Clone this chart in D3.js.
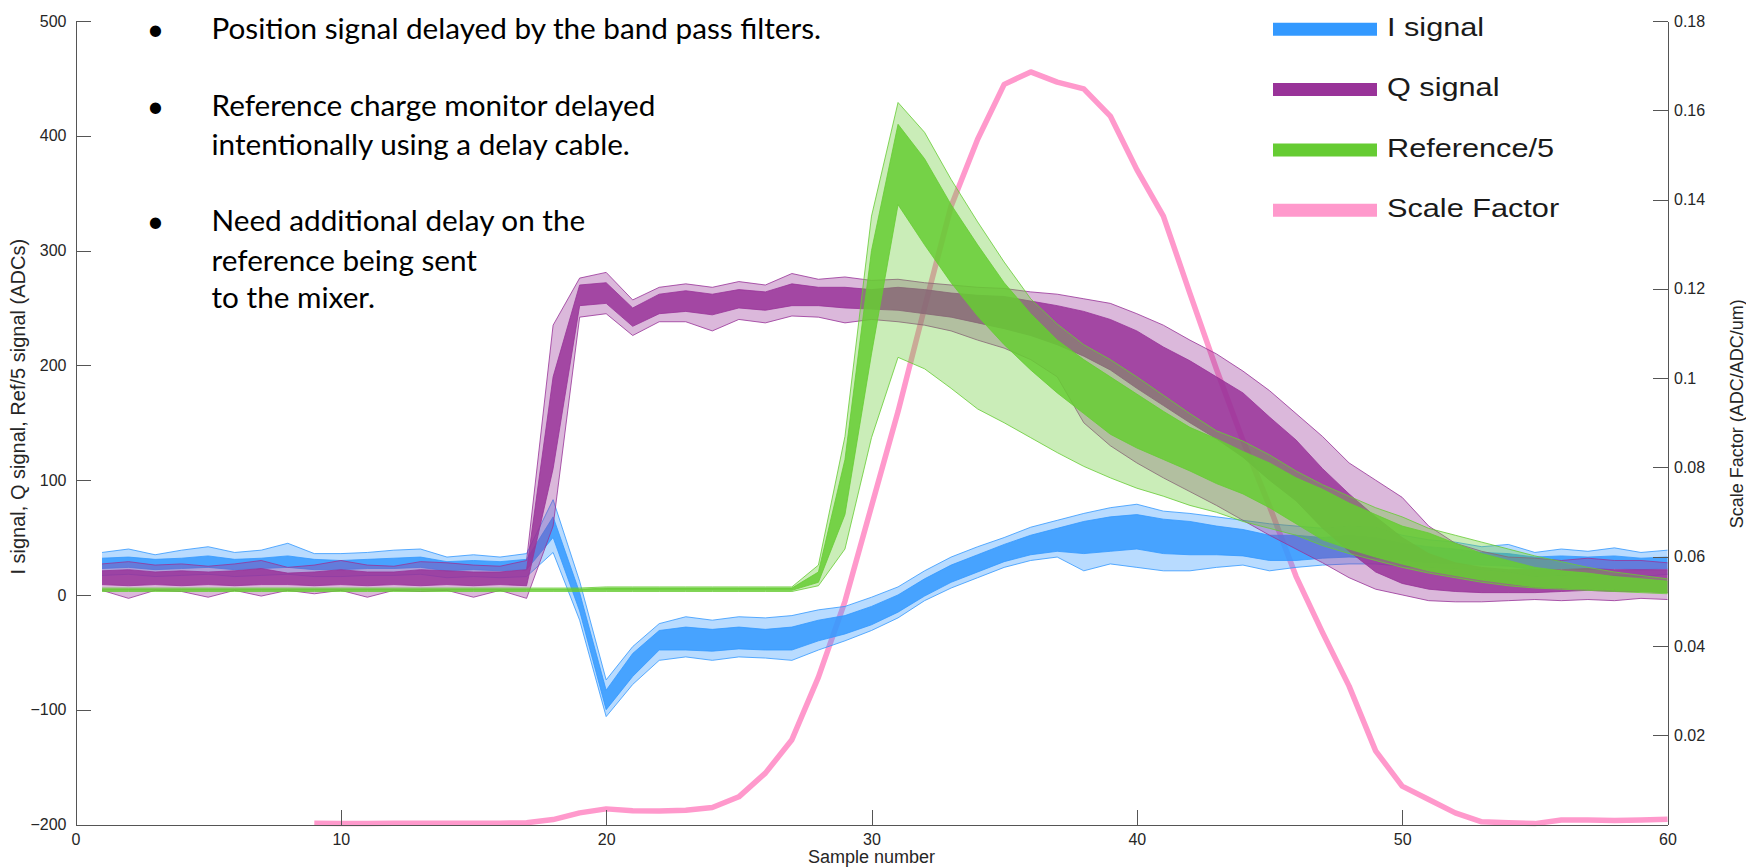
<!DOCTYPE html>
<html>
<head>
<meta charset="utf-8">
<script src="https://cdn.jsdelivr.net/npm/d3@7"></script>
<style>
  body { margin: 0; background: #fff; }
  svg { display: block; }
  .axis text { font-family: "Liberation Sans", Arial, sans-serif; font-size: 16px; fill: #262626; }
  .axis path, .axis line { stroke: #555; shape-rendering: crispEdges; }
</style>
</head>
<body>
<div id="chart"></div>
<script>
// samples 1..60 for the three signal bundles
var firstSample = 1;

// I signal bundle: top trace, dense core top, dense core bottom, bottom trace
var iHi = [37,40,35,39,42,37,39,45,36,36,37,39,40,33,35,33,36,83,12,-74,-45,-25,-19,-22,-19,-20,-18,-13,-10,-2,7,21,33,42,50,59,65,71,76,79,73,71,68,65,62,60,58,60,59,52,48,46,42,44,37,40,38,41,37,39];
var iCoreHi = [32,33,31,32,34,31,32,34,31,30,31,32,33,29,30,29,31,68,2,-83,-51,-31,-28,-30,-28,-30,-28,-22,-18,-10,0,14,26,35,44,52,58,64,68,70,66,64,60,57,52,52,50,52,50,45,42,40,37,36,33,34,33,34,32,33];
var iCoreLo = [23,24,22,23,24,22,23,24,22,22,23,23,24,21,22,21,22,50,-14,-100,-71,-48,-48,-49,-47,-48,-48,-40,-34,-26,-15,-1,11,20,29,35,38,36,38,40,36,35,35,34,30,30,32,33,32,30,28,27,26,25,22,23,22,23,22,23];
var iLo = [17,18,16,17,18,16,17,18,16,16,17,17,18,15,16,15,16,37,-22,-106,-78,-57,-54,-57,-54,-55,-57,-48,-40,-31,-20,-5,6,15,24,30,33,21,27,24,21,21,24,26,21,24,26,27,27,25,24,23,22,20,16,17,16,17,16,18];

// Q signal bundle
var qHi = [27,29,26,27,25,27,30,24,26,30,26,25,29,28,26,25,30,235,276,281,257,268,271,268,273,270,280,275,277,274,275,272,270,268,267,264,262,258,254,245,235,222,210,195,178,158,138,115,100,85,60,45,38,33,32,30,32,30,30,28];
var qCoreHi = [21,22,20,21,20,21,23,19,20,22,20,20,22,21,20,20,22,190,270,272,250,262,265,262,266,264,271,268,268,266,268,266,263,261,260,256,252,247,240,230,216,204,190,176,155,135,110,88,68,50,36,28,24,22,22,22,23,22,22,22];
var qCoreLo = [9,8,9,8,9,8,9,9,8,9,8,9,8,9,8,9,8,110,252,254,234,245,247,244,250,248,252,252,250,249,248,245,242,237,232,226,218,208,196,180,165,150,136,120,100,82,58,38,20,10,5,3,2,2,2,3,4,3,3,2];
var qLo = [4,-3,4,3,-2,4,-1,4,1,4,-2,4,3,4,-2,4,-3,60,242,245,226,238,238,230,240,237,243,242,237,240,238,235,230,222,215,205,190,150,130,115,102,90,78,65,52,40,28,15,5,0,-5,-6,-6,-5,-4,-5,-4,-5,-3,-4];

// Reference/5 bundle
var rHi = [6,6,6,6,6,6,6,6,6,6,6,6,6,6,6,6,6,6,6,7,7,7,7,7,7,7,7,26,138,330,429,403,362,325,290,258,236,218,205,190,174,158,143,134,122,108,96,86,76,68,58,52,46,40,34,29,24,20,17,14];
var rCoreHi = [5,5,5,5,5,5,5,5,5,5,5,5,5,5,5,5,5,5,5,6,6,6,6,6,6,6,6,20,118,300,410,380,340,305,272,245,222,205,190,175,160,146,136,125,115,102,92,80,70,60,54,45,36,30,24,21,19,16,14,12];
var rCoreLo = [4,4,4,4,4,4,4,4,4,4,4,4,4,4,4,4,4,4,4,4,4,4,4,4,4,4,4,11,70,210,340,305,272,243,218,196,176,158,140,128,118,108,97,88,76,62,48,40,33,27,21,17,13,10,7,6,5,4,3,2];
var rLo = [3,3,3,3,3,3,3,3,3,3,3,3,3,3,3,3,3,3,3,3,3,3,3,3,3,3,3,8,40,137,207,197,180,162,150,137,124,112,102,93,86,78,72,64,58,52,43,36,30,24,19,15,11,8,6,5,4,3,2,1];

// Scale factor (right axis), samples 9..60
var scaleStart = 9;
var scaleFactor = [0.0003,0.0002,0.0002,0.0003,0.0003,0.0003,0.0003,0.0003,0.0004,0.0011,0.0026,0.0035,0.0031,0.0030,0.0032,0.0038,0.0062,0.0115,0.0190,0.0330,0.0500,0.0713,0.0925,0.1158,0.1385,0.1535,0.1658,0.1686,0.1663,0.1648,0.1587,0.1467,0.1363,0.1190,0.1020,0.0860,0.0713,0.0556,0.0430,0.0310,0.0165,0.0086,0.0056,0.0026,0.0006,0.0004,0.0002,0.0010,0.0010,0.0009,0.0010,0.0012];

var xTicks = [0,10,20,30,40,50,60];
var yLeftTicks = [-200,-100,0,100,200,300,400,500];
var yRightTicks = [0.02,0.04,0.06,0.08,0.1,0.12,0.14,0.16,0.18];

var legendNames = ["I signal","Q signal","Reference/5","Scale Factor"];
var colors = ["#3399ff","#993399","#66cc33","#ff99cc"];

var bullets = [
  ["Position signal delayed by the band pass filters."],
  ["Reference charge monitor delayed", "intentionally using a delay cable."],
  ["Need additional delay on the", "reference being sent", "to the mixer."]
];

var svgWidth = 1746, svgHeight = 868;
var margin = {top: 21, right: 78.5, bottom: 43.5, left: 75.5};
var width = svgWidth - margin.left - margin.right;
var height = svgHeight - margin.top - margin.bottom;

var svg = d3.select("#chart").append("svg")
  .attr("width", svgWidth)
  .attr("height", svgHeight);

var chartGroup = svg.append("g")
  .attr("transform", `translate(${margin.left}, ${margin.top})`);

var x = d3.scaleLinear().domain([0, 60]).range([0, width]);
var yLeft = d3.scaleLinear().domain([-200, 500]).range([height, 0]);
var yRight = d3.scaleLinear().domain([0, 0.18]).range([height, 0]);

// pink scale factor goes underneath everything
chartGroup.append("path")
  .datum(scaleFactor)
  .attr("fill", "none")
  .attr("stroke", colors[3])
  .attr("stroke-width", 5.5)
  .attr("stroke-linejoin", "round")
  .attr("d", d3.line().x((d, i) => x(scaleStart + i)).y(d => yRight(d)));

function drawBundle(hi, coreHi, coreLo, lo, color) {
  var rows = hi.map((d, i) => ({s: firstSample + i, hi: d, ch: coreHi[i], cl: coreLo[i], lo: lo[i]}));
  var g = chartGroup.append("g");

  g.append("path").datum(rows)
    .attr("fill", color).attr("opacity", 0.35)
    .attr("d", d3.area().x(d => x(d.s)).y0(d => yLeft(d.lo)).y1(d => yLeft(d.hi)));

  g.append("path").datum(rows)
    .attr("fill", color).attr("opacity", 0.85)
    .attr("d", d3.area().x(d => x(d.s)).y0(d => yLeft(d.cl)).y1(d => yLeft(d.ch)));

  [hi, coreHi, coreLo, lo].forEach(function(arr) {
    g.append("path").datum(arr)
      .attr("fill", "none")
      .attr("stroke", color)
      .attr("stroke-width", 1)
      .attr("opacity", 0.8)
      .attr("d", d3.line().x((d, i) => x(firstSample + i)).y(d => yLeft(d)));
  });
}

drawBundle(iHi, iCoreHi, iCoreLo, iLo, colors[0]);
drawBundle(qHi, qCoreHi, qCoreLo, qLo, colors[1]);
drawBundle(rHi, rCoreHi, rCoreLo, rLo, colors[2]);

// axes, ticks point inward
chartGroup.append("g")
  .attr("class", "axis")
  .call(d3.axisLeft(yLeft).tickValues(yLeftTicks).tickSize(-15).tickSizeOuter(0).tickPadding(9));

chartGroup.append("g")
  .attr("class", "axis")
  .attr("transform", `translate(${width}, 0)`)
  .call(d3.axisRight(yRight).tickValues(yRightTicks).tickSize(-15).tickSizeOuter(0).tickPadding(6.5).tickFormat(d => String(d)));

chartGroup.append("g")
  .attr("class", "axis")
  .attr("transform", `translate(0, ${height})`)
  .call(d3.axisBottom(x).tickValues(xTicks).tickSize(-15).tickSizeOuter(0).tickPadding(9));

chartGroup.selectAll(".axis text").attr("fill", "#262626");
chartGroup.selectAll(".axis .domain").attr("stroke", "#555");

// axis titles
svg.append("text")
  .attr("x", margin.left + width / 2)
  .attr("y", 863)
  .attr("text-anchor", "middle")
  .attr("font-family", "Liberation Sans, Arial, sans-serif")
  .attr("font-size", 18)
  .attr("fill", "#262626")
  .text("Sample number");

svg.append("text")
  .attr("transform", `translate(25, ${margin.top + height / 2 - 16})rotate(-90)`)
  .attr("text-anchor", "middle")
  .attr("font-family", "Liberation Sans, Arial, sans-serif")
  .attr("font-size", 20)
  .attr("fill", "#262626")
  .text("I signal, Q signal, Ref/5 signal (ADCs)");

svg.append("text")
  .attr("transform", `translate(1743, ${margin.top + height / 2 - 9})rotate(-90)`)
  .attr("text-anchor", "middle")
  .attr("font-family", "Liberation Sans, Arial, sans-serif")
  .attr("font-size", 18)
  .attr("fill", "#262626")
  .text("Scale Factor (ADC/ADC/um)");

// legend
var legend = svg.append("g").attr("transform", "translate(1273, 29.3)");
legendNames.forEach(function(name, i) {
  var row = legend.append("g").attr("transform", `translate(0, ${i * 60.3})`);
  row.append("line")
    .attr("x1", 0).attr("x2", 104)
    .attr("stroke", colors[i])
    .attr("stroke-width", 13);
  row.append("text")
    .attr("transform", "translate(114, 6.7) scale(1.18, 1)")
    .attr("font-family", "Liberation Sans, Arial, sans-serif")
    .attr("font-size", 26)
    .attr("fill", "#1a1a1a")
    .text(name);
});

// slide notes
var lineBase = [[39.3], [116, 154.5], [231, 270.5, 307.5]];
var notes = svg.append("g").attr("font-family", "Lato, 'Open Sans', sans-serif").attr("fill", "#000");
bullets.forEach(function(lines, b) {
  notes.append("text")
    .attr("x", 155.5)
    .attr("y", lineBase[b][0] + 1)
    .attr("text-anchor", "middle")
    .attr("font-size", 30)
    .text("\u2022");
  lines.forEach(function(t, j) {
    notes.append("text")
      .attr("x", 211.5)
      .attr("y", lineBase[b][j])
      .attr("font-size", 29.7)
      .text(t);
  });
});
</script>
</body>
</html>
